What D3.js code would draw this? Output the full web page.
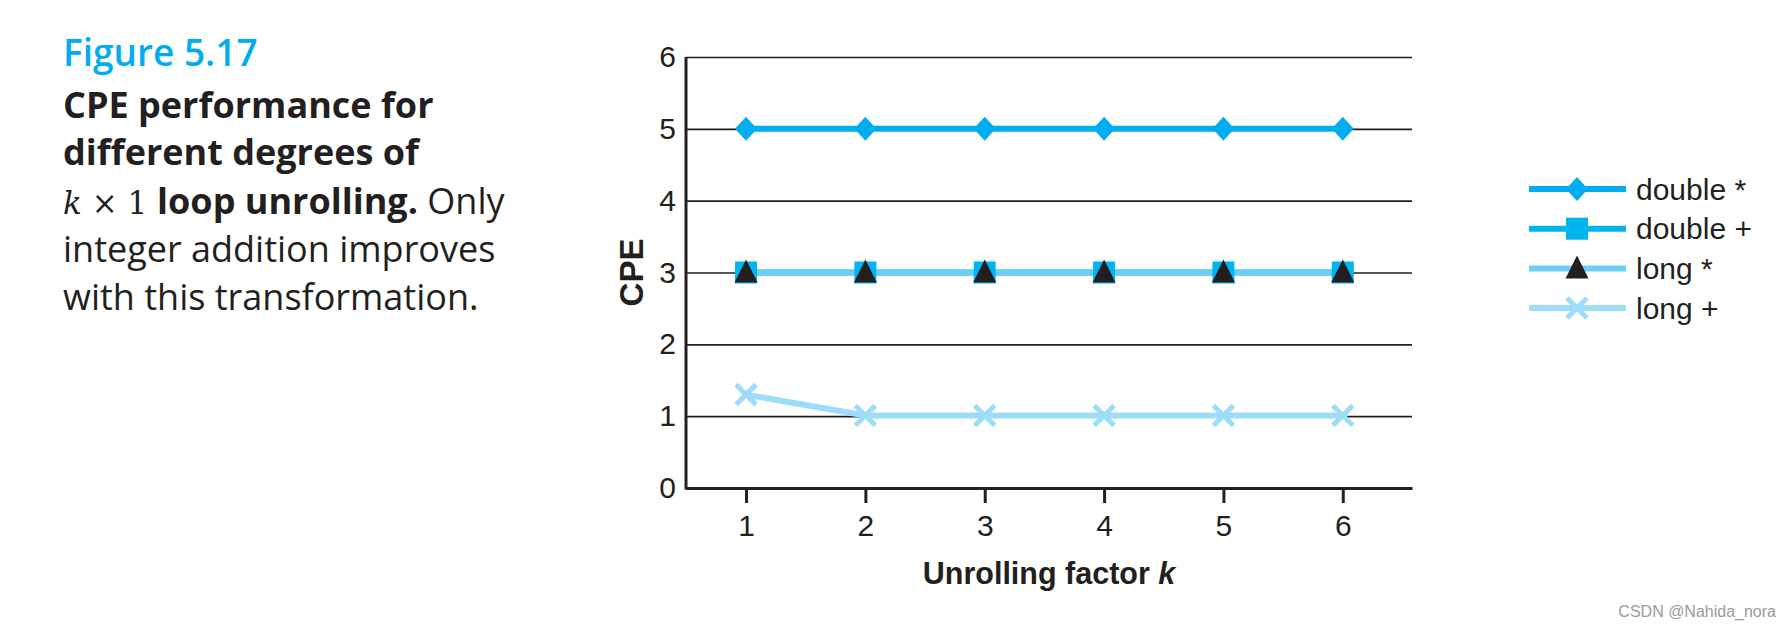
<!DOCTYPE html>
<html>
<head>
<meta charset="utf-8">
<script src="https://cdn.jsdelivr.net/npm/d3@7"></script>
<style>
  html, body { margin: 0; padding: 0; background: #fff; }
  svg { display: block; }
</style>
</head>
<body>
<svg id="chart" width="1792" height="630"></svg>
<script>
// ---- data ----
const unroll = [1, 2, 3, 4, 5, 6];
const doubleMul = [5, 5, 5, 5, 5, 5];
const doubleAdd = [3, 3, 3, 3, 3, 3];
const longMul   = [3, 3, 3, 3, 3, 3];
const longAdd   = [1.3, 1.01, 1.01, 1.01, 1.01, 1.01];
const yTicks = [0, 1, 2, 3, 4, 5, 6];
const seriesNames = ["double *", "double +", "long *", "long +"];

// ---- styles ----
const colors = {
  "double *": "#00AEEF",
  "double +": "#00B4F0",
  "long *":   "#6DCFF6",
  "long +":   "#9EDDF9"
};
const series = [
  { name: seriesNames[0], values: doubleMul, marker: "diamond" },
  { name: seriesNames[1], values: doubleAdd, marker: "square" },
  { name: seriesNames[2], values: longMul,   marker: "triangle" },
  { name: seriesNames[3], values: longAdd,   marker: "cross" }
];

const svg = d3.select("#chart");
const axisFont = "'Liberation Sans', Arial, Helvetica, sans-serif";

const x = d3.scaleLinear().domain([0.497, 6.58]).range([686, 1412]);
const y = d3.scaleLinear().domain([0, 6]).range([488, 57]);

// gridlines + y tick labels
svg.append("g")
  .attr("transform", `translate(${x.range()[0]},0)`)
  .call(d3.axisLeft(y).tickValues(yTicks).tickSize(-(x.range()[1] - x.range()[0])).tickPadding(10).tickFormat(d3.format("d")))
  .call(g => g.select(".domain").remove())
  .call(g => g.selectAll(".tick line").attr("stroke", "#231f20").attr("stroke-width", 1.6))
  .call(g => g.selectAll(".tick text").attr("font-family", axisFont).attr("font-size", 30).attr("fill", "#231f20"));

// y axis line
svg.append("line")
  .attr("x1", x.range()[0]).attr("x2", x.range()[0])
  .attr("y1", y(6)).attr("y2", y(0) + 1.5)
  .attr("stroke", "#231f20").attr("stroke-width", 3);

// x axis
svg.append("g")
  .attr("transform", `translate(0,${y(0)})`)
  .call(d3.axisBottom(x).tickValues(unroll).tickSize(15).tickSizeOuter(0).tickPadding(12).tickFormat(d3.format("d")))
  .call(g => g.select(".domain").attr("stroke", "#231f20").attr("stroke-width", 3))
  .call(g => g.selectAll(".tick line").attr("stroke", "#231f20").attr("stroke-width", 3))
  .call(g => g.selectAll(".tick text").attr("font-family", axisFont).attr("font-size", 30).attr("fill", "#231f20"));

// axis titles
const xt = svg.append("text")
  .attr("x", (x.range()[0] + x.range()[1]) / 2)
  .attr("y", 584)
  .attr("text-anchor", "middle")
  .attr("font-family", axisFont).attr("font-weight", "bold").attr("font-size", 30.5)
  .attr("fill", "#231f20");
xt.append("tspan").text("Unrolling factor ");
xt.append("tspan").attr("font-style", "italic").text("k");

svg.append("text")
  .attr("transform", `translate(643,${(y(0) + y(6)) / 2}) rotate(-90)`)
  .attr("text-anchor", "middle")
  .attr("font-family", axisFont).attr("font-weight", "bold").attr("font-size", 33)
  .attr("fill", "#231f20")
  .text("CPE");

// marker shapes
function drawMarker(g, type, cx, cy, color) {
  if (type === "diamond") {
    g.append("path").attr("d", `M${cx},${cy - 12}L${cx + 11},${cy}L${cx},${cy + 12}L${cx - 11},${cy}Z`).attr("fill", color);
  } else if (type === "square") {
    g.append("rect").attr("x", cx - 11).attr("y", cy - 11).attr("width", 22).attr("height", 22).attr("fill", color);
  } else if (type === "triangle") {
    g.append("path").attr("d", `M${cx},${cy - 13}L${cx + 11.5},${cy + 10}L${cx - 11.5},${cy + 10}Z`).attr("fill", "#231f20");
  } else if (type === "cross") {
    g.append("path").attr("d", `M${cx - 10},${cy - 10}L${cx + 10},${cy + 10}M${cx + 10},${cy - 10}L${cx - 10},${cy + 10}`)
      .attr("stroke", color).attr("stroke-width", 5).attr("fill", "none");
  }
}

const line = d3.line().x((d, i) => x(unroll[i])).y(d => y(d));

// lines
const linesG = svg.append("g");
series.forEach(s => {
  linesG.append("path")
    .attr("d", line(s.values))
    .attr("fill", "none")
    .attr("stroke", colors[s.name])
    .attr("stroke-width", 6);
});
// markers
const markG = svg.append("g");
series.forEach(s => {
  s.values.forEach((v, i) => drawMarker(markG, s.marker, x(unroll[i]), y(v), colors[s.name]));
});

// legend
const legend = svg.append("g");
series.forEach((s, i) => {
  const cy = 189 + i * 39.7;
  legend.append("line").attr("x1", 1529).attr("x2", 1626).attr("y1", cy).attr("y2", cy)
    .attr("stroke", colors[s.name]).attr("stroke-width", 6);
  drawMarker(legend, s.marker, 1577, cy, colors[s.name]);
  legend.append("text").attr("x", 1636).attr("y", cy).attr("dy", "0.35em")
    .attr("font-family", axisFont).attr("font-size", 30).attr("fill", "#231f20")
    .text(s.name);
});

// caption block
const capFont = "'Open Sans', 'Noto Sans', sans-serif";
svg.append("text").attr("x", 63).attr("y", 66)
  .attr("font-family", capFont).attr("font-weight", 600).attr("font-size", 37)
  .attr("fill", "#00AEEF").text("Figure 5.17");

const cap = svg.append("g").attr("font-family", capFont).attr("font-size", 36).attr("fill", "#231f20");
cap.append("text").attr("x", 63).attr("y", 118).attr("font-weight", "bold").text("CPE performance for");
cap.append("text").attr("x", 63).attr("y", 165).attr("font-weight", "bold").text("different degrees of");
const l3 = cap.append("text").attr("x", 63).attr("y", 214);
l3.append("tspan").attr("font-family", "'DejaVu Serif', 'Liberation Serif', serif").attr("font-size", 31).attr("font-style", "italic").text("k");
l3.append("tspan").attr("font-family", "'DejaVu Serif', 'Liberation Serif', serif").attr("font-size", 31).text(" \u00D7 1 ");
l3.append("tspan").attr("font-weight", "bold").text("loop unrolling.");
l3.append("tspan").text(" Only");
cap.append("text").attr("x", 63).attr("y", 262).text("integer addition improves");
cap.append("text").attr("x", 63).attr("y", 310).text("with this transformation.");

// watermark
svg.append("text").attr("x", 1776).attr("y", 617).attr("text-anchor", "end")
  .attr("font-family", axisFont).attr("font-size", 16).attr("fill", "#9a9a9a")
  .text("CSDN @Nahida_nora");
</script>
</body>
</html>
